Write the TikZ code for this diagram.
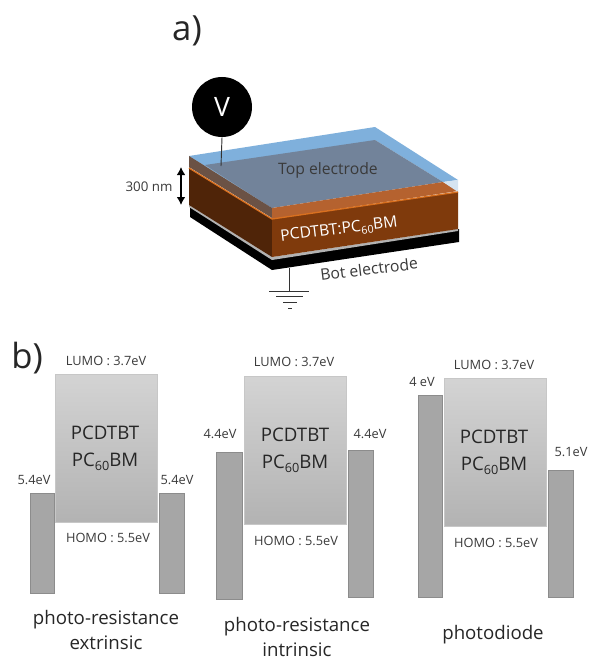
\documentclass[tikz,border=0pt]{standalone}
\usepackage{fontspec}
\setmainfont{Open Sans}
\usetikzlibrary{arrows.meta}
\definecolor{lbl}{HTML}{3A3A3A}
\definecolor{bigt}{HTML}{262626}
\definecolor{brfront}{HTML}{7F3A0C}
\definecolor{brleft}{HTML}{4F2408}
\definecolor{orband}{HTML}{B5622F}
\definecolor{orline}{HTML}{D9701F}
\definecolor{bluetop}{HTML}{7FB0DC}
\definecolor{graytop}{HTML}{72839A}
\definecolor{grayleft}{HTML}{6B5245}
\definecolor{cornerb}{HTML}{D5E3F0}
\definecolor{bluel}{HTML}{8FA9C2}
\tikzset{
  x=0.75pt,y=-0.75pt,
  metal/.style={draw=black!45,line width=0.6pt,fill=black!35},
  org/.style={draw=black!22,line width=0.6pt,top color=black!17,bottom color=black!30},
  lab/.style={font=\fontsize{9.6}{11}\selectfont,text=lbl,inner sep=0pt},
  devlab/.style={font=\fontsize{9}{11}\selectfont,inner sep=0pt},
  bandname/.style={font=\fontsize{14}{20}\selectfont,text=bigt,align=center,inner sep=0pt},
  captext/.style={font=\fontsize{14}{18.5}\selectfont,text=bigt,align=center,inner sep=0pt},
  head/.style={font=\fontsize{26}{30}\selectfont,text=bigt,inner sep=0pt},
  wire/.style={black!80,line width=0.7pt},
}
\newcommand{\subsx}[1]{\raisebox{-0.4ex}{\scalebox{0.68}{#1}}}
\newcommand{\pcbm}{PCDTBT\\PC\subsx{60}BM}
\begin{document}
\begin{tikzpicture}
\useasboundingbox (0,0) rectangle (596,660);
\fill[white] (0,0) rectangle (596,660);
\node[head] (la) at (187,31) {a)};
\node[head] (lb) at (27,358) {b)};
% device
\fill[black] (190,207) -- (190,217) -- (272,270) -- (459,242) -- (459,229) -- (272,258) -- cycle;
\fill[black!30] (189,205) -- (272,257) -- (458,229) -- (458,231) -- (272,260) -- (189,207) -- cycle;
\fill[brleft] (189,168) -- (272,219) -- (272,257) -- (189,205) -- cycle;
\fill[brfront] (272,219) -- (458,192) -- (458,229) -- (272,257) -- cycle;
\fill[bluetop] (189,156) -- (375,127) -- (458,180) -- (443,182) -- (375,140) -- (272,208) -- cycle;
\fill[bluel] (189,156) -- (205,166) -- (189,168) -- cycle;
\fill[graytop] (205,165) -- (375,140) -- (443,182) -- (272,208) -- cycle;
\fill[grayleft] (189,156) -- (272,208) -- (272,218) -- (189,167) -- cycle;
\fill[orband] (272,208) -- (443,182) -- (458,191) -- (272,219) -- cycle;
\fill[cornerb] (443,182) -- (458,180) -- (458,192) -- cycle;
\draw[orline,line width=1pt] (189,168) -- (272,219) -- (458,192);
\node[circle,fill=black,minimum size=45pt,inner sep=0pt,font=\fontsize{20}{22}\selectfont,text=white] (v) at (222,107) {V};
\coordinate (vend) at (221,166);
\draw[wire] (v.south) -- (vend);
\node[devlab,font=\fontsize{11.8}{13}\selectfont,text=lbl] (top) at (328,170) {Top electrode};
\node[devlab,font=\fontsize{11.8}{13}\selectfont,text=white,rotate=7] (mid) at (339,230) {PCDTBT:PC\subsx{60}BM};
\node[devlab,font=\fontsize{11.8}{13}\selectfont,text=lbl,rotate=7] (bot) at (369,269) {Bot electrode};
\node[lab,font=\fontsize{10}{12}\selectfont] (nm) at (149,187) {300 nm};
\coordinate (a1) at (181,167);
\coordinate (a2) at (181,205);
\draw[{Latex[length=6pt,width=6.5pt]}-{Latex[length=6pt,width=6.5pt]},line width=0.9pt] (a1) -- (a2);
% ground
\coordinate (g0) at (289,268); \coordinate (g1) at (289,291);
\draw[wire] (g0) -- (g1);
\draw[wire] (269,291) -- (309,291);
\draw[wire] (276,296) -- (303,296);
\draw[wire] (283,302) -- (297,302);
\draw[wire] (288,308) -- (292,308);
% band diagram 1
\draw[org] (55,374) rectangle (157,522);
\draw[metal] (30,493) rectangle (54,593);
\draw[metal] (159,493) rectangle (184,593);
\node[bandname] (n1) at (105,448) {\pcbm};
\node[lab] (l1) at (106,361) {LUMO : 3.7eV};
\node[lab] (h1) at (108,538) {HOMO : 5.5eV};
\node[lab] (e1a) at (34,480) {5.4eV};
\node[lab] (e1b) at (177,480) {5.4eV};
\node[captext] (c1) at (106,630) {photo-resistance\\extrinsic};
% band diagram 2
\draw[org] (244,376) rectangle (346,524);
\draw[metal] (216,452) rectangle (242,599);
\draw[metal] (348,450) rectangle (373,597);
\node[bandname] (n2) at (295,450) {\pcbm};
\node[lab] (l2) at (294,362) {LUMO : 3.7eV};
\node[lab] (h2) at (296,541) {HOMO : 5.5eV};
\node[lab] (e2a) at (220,434) {4.4eV};
\node[lab] (e2b) at (370,434) {4.4eV};
\node[captext] (c2) at (297,637) {photo-resistance\\intrinsic};
% band diagram 3
\draw[org] (444,378) rectangle (546,526);
\draw[metal] (418,395) rectangle (442,597);
\draw[metal] (548,470) rectangle (573,597);
\node[bandname] (n3) at (494,452) {\pcbm};
\node[lab] (l3) at (494,365) {LUMO : 3.7eV};
\node[lab] (h3) at (496,543) {HOMO : 5.5eV};
\node[lab] (e3a) at (422,382) {4 eV};
\node[lab] (e3b) at (571,452) {5.1eV};
\node[captext] (c3) at (493,635) {photodiode};
\end{tikzpicture}
\end{document}
